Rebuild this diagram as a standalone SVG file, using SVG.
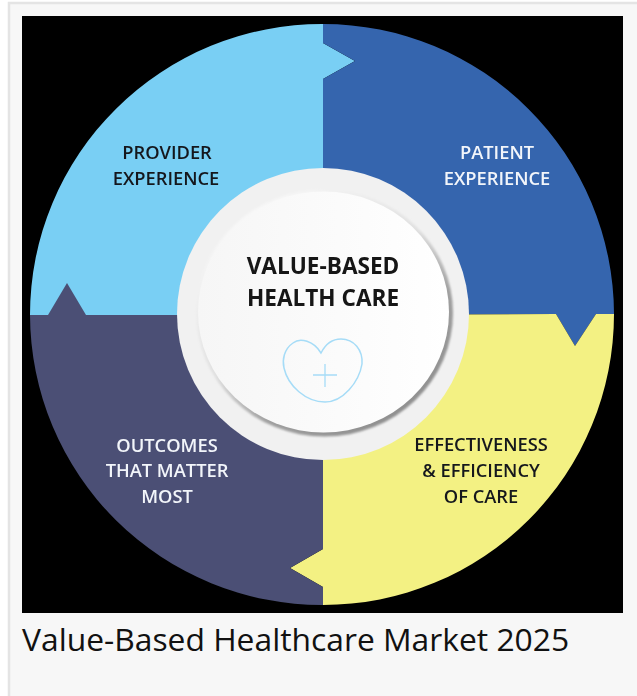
<svg xmlns="http://www.w3.org/2000/svg" width="637" height="696" viewBox="0 0 637 696">
<defs>
<filter id="soft" x="-5%" y="-5%" width="110%" height="110%"><feGaussianBlur stdDeviation="0.55"/></filter>
<filter id="textsoft" x="-5%" y="-15%" width="110%" height="130%"><feGaussianBlur stdDeviation="0.6"/></filter>
<filter id="ringblur" x="-5%" y="-5%" width="110%" height="110%"><feGaussianBlur stdDeviation="0.9"/></filter>
<linearGradient id="disc" x1="0" y1="0" x2="1" y2="0"><stop offset="0" stop-color="#f6f6f6"/><stop offset="0.45" stop-color="#fafafa"/><stop offset="1" stop-color="#ffffff"/></linearGradient>
<linearGradient id="rim" x1="0.2" y1="0.1" x2="0.8" y2="0.9"><stop offset="0" stop-color="#f8f8f8"/><stop offset="0.45" stop-color="#e0e0e0"/><stop offset="0.72" stop-color="#a0a0a0"/><stop offset="1" stop-color="#909090"/></linearGradient>
</defs>
<style>
.lbl{font-family:"Open Sans","Noto Sans","Liberation Sans",sans-serif;font-weight:600;font-size:18.3px;text-anchor:middle}
.dark{fill:#14191d}.light{fill:#f2f5fa}
.title{font-family:"Open Sans","Noto Sans","Liberation Sans",sans-serif;font-weight:700;font-size:22.6px;text-anchor:middle;fill:#141414}
</style>
<rect width="637" height="696" fill="#ffffff"/>
<rect x="9" y="3" width="640" height="705" fill="#f7f7f7" stroke="#e4e4e4" stroke-width="2.5"/>
<rect x="22" y="16" width="601" height="597" fill="#000000"/>
<g id="wheel" filter="url(#soft)">
<g id="provider"><path d="M323 24 L323 43 L355 61 L323 79 L323 315 L30 315 A292 291 0 0 1 323 24 Z" fill="#79cff4"/></g>
<g id="patient"><path d="M323 24 A291 291 0 0 1 614 314 L596 314 L575 346 L556 314 L323 315 L323 79 L355 61 L323 43 Z" fill="#3665ae"/></g>
<g id="effectiveness"><path d="M614 314 A291 291 0 0 1 323 605 L323 587 L290 568 L323 549 L323 315 L556 314 L575 346 L596 314 Z" fill="#f3f183"/></g>
<g id="outcomes"><path d="M323 605 A292 291 0 0 1 30 315 L48 315 L67 283 L86 315 L323 315 L323 549 L290 568 L323 587 Z" fill="#4b5074"/></g>
</g>
<g id="center">
<circle cx="323" cy="314" r="146" fill="#f1f1f1"/>
<ellipse cx="324.5" cy="313" rx="128.5" ry="123.5" fill="url(#rim)" filter="url(#ringblur)"/>
<ellipse cx="323.5" cy="312" rx="125.5" ry="120.5" fill="url(#disc)"/>
<path d="M321 353 C314 341 300 337 293 343 C284 349 282 360 284 368 C288 386 306 402 325 402 C343 402 359 382 362 364 C363 350 354 339 341 339 C332 339 325 345 321 353 Z" fill="none" stroke="#a6dcf7" stroke-width="1.5"/>
<path d="M325 364V387M313 375H337" fill="none" stroke="#a6dcf7" stroke-width="1.3"/>
<g filter="url(#textsoft)">
<text class="title" x="323" y="274">VALUE-BASED</text>
<text class="title" x="323" y="306">HEALTH CARE</text>
</g>
</g>
<g id="labels" filter="url(#textsoft)">
<text class="lbl dark" x="167" y="159">PROVIDER</text>
<text class="lbl dark" x="166" y="185">EXPERIENCE</text>
<text class="lbl light" x="497" y="159">PATIENT</text>
<text class="lbl light" x="497" y="185">EXPERIENCE</text>
<text class="lbl dark" x="481" y="451">EFFECTIVENESS</text>
<text class="lbl dark" x="481" y="477">&amp; EFFICIENCY</text>
<text class="lbl dark" x="481" y="503">OF CARE</text>
<text class="lbl light" x="167" y="452">OUTCOMES</text>
<text class="lbl light" x="167" y="477">THAT MATTER</text>
<text class="lbl light" x="167" y="503">MOST</text>
</g>
<text x="22" y="651" font-family="'Open Sans','Noto Sans',sans-serif" font-size="31.8" fill="#111111">Value-Based Healthcare Market 2025</text>
</svg>
